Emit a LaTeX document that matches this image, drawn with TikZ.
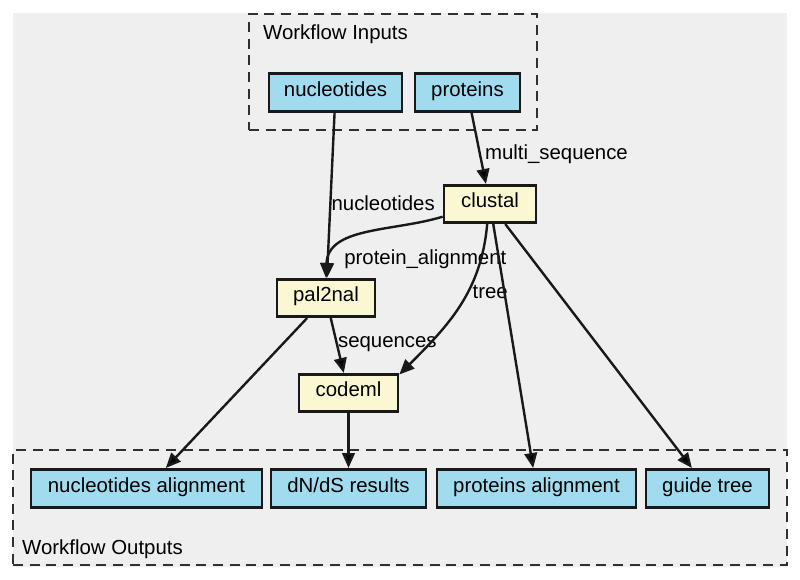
\documentclass[tikz,border=0pt]{standalone}
\usepackage{fontspec}
\setmainfont{Liberation Sans}
\usetikzlibrary{arrows.meta}

\definecolor{bggray}{RGB}{239,239,239}
\definecolor{portblue}{RGB}{160,219,238}
\definecolor{procyellow}{RGB}{250,248,210}
\definecolor{lineblack}{RGB}{25,25,25}

\begin{document}
\begin{tikzpicture}[x=0.03cm,y=-0.03cm,
    font=\fontsize{17.4}{20}\selectfont,
    >={Triangle[length=0.45cm,width=0.38cm]},
    port/.style={draw=lineblack,fill=portblue,line width=0.08cm,minimum height=1.15cm,inner sep=0pt,text height=0.9em,text depth=0.22em},
    proc/.style={draw=lineblack,fill=procyellow,line width=0.08cm,minimum height=1.12cm,inner sep=0pt,text height=0.9em,text depth=0.22em},
    cluster/.style={draw=lineblack!90,line width=0.075cm,dash pattern=on 0.3cm off 0.2cm,inner sep=0pt},
    link/.style={draw=lineblack,line width=0.072cm}]

    \useasboundingbox (0,0) rectangle (800,580);
    \fill[bggray] (13,13) rectangle (787,567);

    % --------------------------------------------------------- %
    % ------------- workflow inputs
    % --------------------------------------------------------- %
    \node[cluster,minimum width=8.64cm,minimum height=3.48cm] (inputs) at (393,72) {};
    \node[anchor=west,inner sep=0pt] (inputstitle) at (263,34) {Workflow Inputs};
    % --- nucleotides node
    \node[port,minimum width=3.99cm] (nucleotides) at (335.5,92.5) {nucleotides};
    % --- proteins node
    \node[port,minimum width=3.15cm] (proteins) at (467.5,92.5) {proteins};

    % --------------------------------------------------------- %
    % ------------ processors
    % --------------------------------------------------------- %
    % --- clustal node
    \node[proc,minimum width=2.76cm] (clustal) at (490,204) {clustal};
    \draw [->,link] (proteins) edge node[pos=0.58,anchor=west] {multi\_sequence} (clustal);
    % --- pal2nal node
    \node[proc,minimum width=2.94cm] (pal2nal) at (326,298) {pal2nal};
    \draw [->,link] (nucleotides) edge node[pos=0.545,anchor=west,inner sep=0pt] {nucleotides} (pal2nal);
    \draw [->,link] (clustal.195) to [out=197, in=88] node[pos=0.72,anchor=north west,inner sep=2pt] {protein\_alignment} (pal2nal.north);
    % --- codeml node
    \node[proc,minimum width=2.97cm] (codeml) at (348.5,393) {codeml};
    \draw [->,link] (pal2nal) edge node[pos=0.47,anchor=west,inner sep=0pt] {sequences} (codeml);
    \draw [->,link] (clustal.262) to [out=265, in=45] node[pos=0.4,anchor=west] {tree} (codeml.20);

    % --------------------------------------------------------- %
    % ------------ workflow outputs
    % --------------------------------------------------------- %
    \node[cluster,minimum width=23.22cm,minimum height=3.45cm] (outputs) at (400,507.5) {};
    \node[anchor=west,inner sep=0pt] (outputstitle) at (22,549) {Workflow Outputs};
    % --- output nodes
    \node[port,minimum width=6.93cm] (nucalign) at (146.5,488.5) {nucleotides alignment};
    \draw [->,link] (pal2nal) edge (nucalign);
    \node[port,minimum width=4.65cm] (dnds) at (348.5,488.5) {dN/dS results};
    \draw [->,link] (codeml) edge (dnds);
    \node[port,minimum width=5.97cm] (protalign) at (536.5,488.5) {proteins alignment};
    \draw [->,link] (clustal) edge (protalign);
    \node[port,minimum width=3.69cm] (guidetree) at (707.5,488.5) {guide tree};
    \draw [->,link] (clustal) edge (guidetree);

  \end{tikzpicture}
\end{document}
